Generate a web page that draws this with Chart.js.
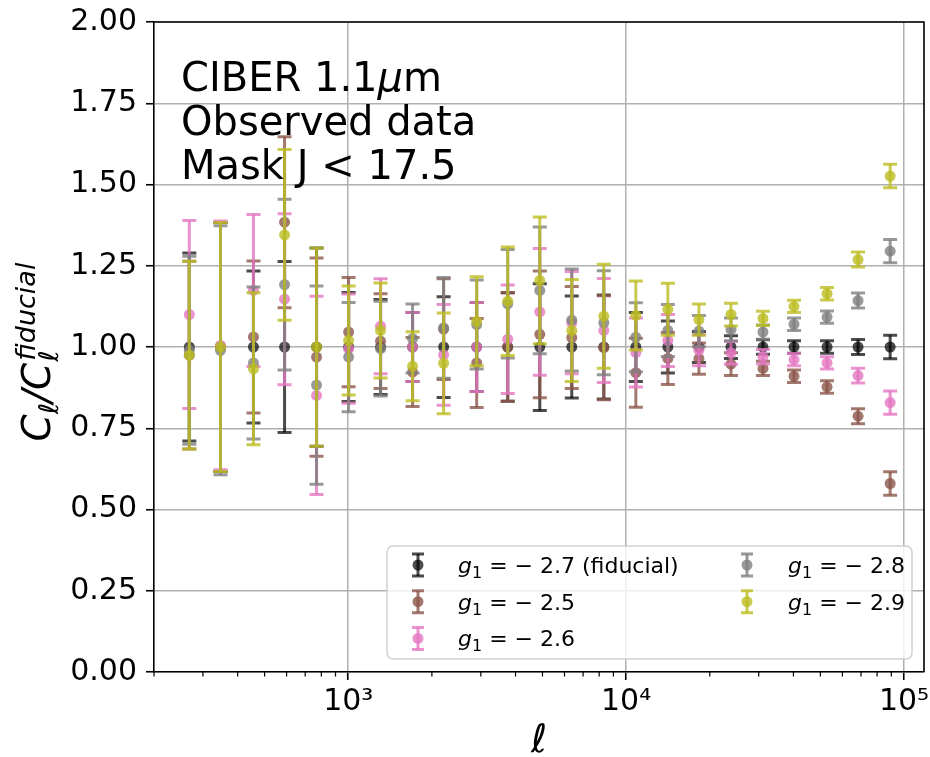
<!DOCTYPE html>
<html>
<head>
<meta charset="utf-8">
<script src="https://cdn.jsdelivr.net/npm/chart.js@4.4.0/dist/chart.umd.min.js"></script>
<style>
    html, body { margin: 0; padding: 0; background: #fff; }
    canvas { display: block; }
</style>
</head>
<body>
<canvas id="chartRatio" width="930" height="757"></canvas>
<script>
// multipole bins (ell)
const ell = [268, 347, 456, 590, 769, 1003, 1307, 1704, 2204, 2899, 3749, 4890, 6374, 8311,
    10839, 14132, 18278, 23837, 31072, 40186, 52841, 68318, 89145];
// 1-sigma error on the ratio (same for every g1)
const errBar = [0.289, 0.383, 0.234, 0.263, 0.305, 0.168, 0.146, 0.106, 0.155, 0.137, 0.167, 0.195,
    0.157, 0.16, 0.106, 0.08, 0.048, 0.035, 0.022, 0.019, 0.019, 0.023, 0.036];
// C_ell / C_ell^fiducial for each g1
const ratioFid = [1, 1, 1, 1, 1, 1, 1, 1, 1, 1, 1, 1, 1, 1, 1, 1, 1, 1, 1, 1, 1, 1, 1];
const ratio25 = [0.975, 1.0, 1.031, 1.384, 0.969, 1.046, 1.018, 0.923, 1.055, 0.951, 1.0, 1.039,
    1.029, 0.998, 0.921, 0.965, 0.964, 0.947, 0.934, 0.91, 0.877, 0.787, 0.58];
const ratio26 = [1.10, 1.005, 1.174, 1.147, 0.851, 0.995, 1.064, 1.0, 0.976, 1.0, 1.024, 1.108,
    1.075, 1.051, 0.983, 1.02, 0.99, 0.982, 0.97, 0.961, 0.951, 0.912, 0.829];
const ratio28 = [0.99, 0.99, 0.951, 1.192, 0.883, 0.969, 0.995, 1.026, 1.059, 1.069, 1.133, 1.174,
    1.083, 1.075, 1.03, 1.051, 1.049, 1.054, 1.046, 1.07, 1.092, 1.143, 1.295];
const ratio29 = [0.975, 1.0, 0.933, 1.345, 1.0, 1.02, 1.051, 0.941, 0.95, 1.079, 1.141, 1.205,
    1.051, 1.095, 1.097, 1.116, 1.084, 1.10, 1.088, 1.125, 1.164, 1.269, 1.526];
// legend labels (g1 values)
const gLabels = ['2.7', '2.5', '2.6', '2.8', '2.9'];
const yTicks = [0, 0.25, 0.5, 0.75, 1.0, 1.25, 1.5, 1.75, 2.0];

const FONT = '"DejaVu Sans"';
const colors = ['rgba(0,0,0,0.7)', 'rgba(140,86,75,0.8)', 'rgba(227,119,194,0.8)',
    'rgba(127,127,127,0.8)', 'rgba(188,189,34,0.8)'];
const series = [ratioFid, ratio25, ratio26, ratio28, ratio29];

function isMajor(v){
    const l = Math.log10(v);
    return Math.abs(l - Math.round(l)) < 1e-9;
}

// draw a list of text pieces, returns total width
function drawRuns(ctx, x, y, runs, measureOnly){
    let cx = x;
    runs.forEach(r => {
        ctx.font = r.font;
        if (!measureOnly) ctx.fillText(r.t, cx, y + (r.dy || 0));
        cx += ctx.measureText(r.t).width;
    });
    return cx - x;
}

// error bars drawn under each dataset's markers
const errorBarPlugin = {
    id: 'errorBars',
    beforeDatasetDraw(chart, args){
        const ds = chart.data.datasets[args.index];
        const ctx = chart.ctx;
        const xs = chart.scales.x, ys = chart.scales.y;
        ctx.save();
        ctx.strokeStyle = ds.pointBackgroundColor;
        ctx.lineWidth = 3;
        ctx.lineCap = 'butt';
        ctx.beginPath();
        ds.data.forEach((d, i) => {
            const px = xs.getPixelForValue(d.x);
            ctx.moveTo(px, ys.getPixelForValue(d.y - errBar[i]));
            ctx.lineTo(px, ys.getPixelForValue(d.y + errBar[i]));
        });
        ctx.stroke();
        ctx.beginPath();
        ds.data.forEach((d, i) => {
            const px = xs.getPixelForValue(d.x);
            [d.y - errBar[i], d.y + errBar[i]].forEach(v => {
                const py = ys.getPixelForValue(v);
                ctx.moveTo(px - 7, py);
                ctx.lineTo(px + 7, py);
            });
        });
        ctx.stroke();
        ctx.restore();
    }
};

// spines, minor ticks, texts and legend
const decorPlugin = {
    id: 'decor',
    afterDraw(chart){
        const ctx = chart.ctx;
        const a = chart.chartArea;
        const xs = chart.scales.x;
        ctx.save();
        ctx.strokeStyle = '#000';
        ctx.lineWidth = 1.6;
        ctx.beginPath();
        ctx.moveTo(a.left, a.top);
        ctx.lineTo(a.right, a.top);
        ctx.lineTo(a.right, a.bottom);
        ctx.stroke();

        // minor log ticks
        ctx.lineWidth = 1.2;
        ctx.beginPath();
        for (let d = 100; d <= 100000; d *= 10){
            for (let k = 2; k <= 9; k++){
                const v = k * d;
                if (v < xs.min || v > xs.max) continue;
                const px = xs.getPixelForValue(v);
                ctx.moveTo(px, a.bottom);
                ctx.lineTo(px, a.bottom + 4.5);
            }
        }
        ctx.stroke();

        ctx.fillStyle = '#000';
        ctx.textBaseline = 'alphabetic';
        ctx.textAlign = 'left';

        // annotation text
        const big = '40px ' + FONT, bigIt = 'italic 40px ' + FONT;
        drawRuns(ctx, 181, 91, [{t: 'CIBER 1.1', font: big}, {t: 'μ', font: bigIt}, {t: 'm', font: big}]);
        drawRuns(ctx, 181, 135, [{t: 'Observed data', font: big}]);
        drawRuns(ctx, 181, 179, [{t: 'Mask J < 17.5', font: big}]);

        // x label
        ctx.font = 'italic 39px ' + FONT;
        ctx.textAlign = 'center';
        ctx.fillText('ℓ', (a.left + a.right) / 2, 752);
        ctx.textAlign = 'left';

        // y label  C_l / C_l^fiducial
        const lab = 'italic 39px ' + FONT, small = 'italic 27px ' + FONT;
        ctx.save();
        ctx.translate(50, 352);
        ctx.rotate(-Math.PI / 2);
        ctx.font = small;
        const wSup = ctx.measureText('fiducial').width;
        const wHead = drawRuns(ctx, 0, 0, [{t: 'C', font: lab}, {t: 'ℓ', font: small}, {t: '/', font: lab}, {t: 'C', font: lab}], true);
        let x0 = -(wHead + wSup + 2) / 2;
        x0 += drawRuns(ctx, x0, 0, [{t: 'C', font: lab}, {t: 'ℓ', font: small, dy: 8}, {t: '/', font: lab}, {t: 'C', font: lab}]);
        drawRuns(ctx, x0 + 1, 0, [{t: 'ℓ', font: small, dy: 8}]);
        drawRuns(ctx, x0 + 2, 0, [{t: 'fiducial', font: small, dy: -15}]);
        ctx.restore();

        // legend box
        ctx.fillStyle = 'rgba(255,255,255,0.8)';
        ctx.strokeStyle = 'rgba(204,204,204,0.9)';
        ctx.lineWidth = 1.5;
        ctx.beginPath();
        ctx.roundRect(387, 546, 525, 113, 6);
        ctx.fill();
        ctx.stroke();

        gLabels.forEach((g, i) => {
            const col = Math.floor(i / 3), row = i % 3;
            const mx = col === 0 ? 418 : 747;
            const tx = col === 0 ? 458 : 788;
            const my = 565 + row * 36.7;
            ctx.strokeStyle = colors[i];
            ctx.fillStyle = colors[i];
            ctx.lineWidth = 3;
            ctx.beginPath();
            ctx.moveTo(mx, my - 11); ctx.lineTo(mx, my + 11);
            ctx.stroke();
            ctx.beginPath();
            ctx.moveTo(mx - 6, my - 11); ctx.lineTo(mx + 6, my - 11);
            ctx.moveTo(mx - 6, my + 11); ctx.lineTo(mx + 6, my + 11);
            ctx.stroke();
            ctx.beginPath();
            ctx.arc(mx, my, 5.5, 0, Math.PI * 2);
            ctx.fill();

            ctx.fillStyle = '#000';
            const rest = ' = − ' + g + (i === 0 ? ' (fiducial)' : '');
            drawRuns(ctx, tx, my + 8, [
                {t: 'g', font: 'italic 22px ' + FONT},
                {t: '1', font: '16px ' + FONT, dy: 5},
                {t: rest, font: '22px ' + FONT}
            ]);
        });
        ctx.restore();
    }
};

document.addEventListener("DOMContentLoaded", function(){
    const datasets = series.map((arr, k) => ({
        label: 'g1 = -' + gLabels[k],
        data: ell.map((l, i) => ({x: l, y: arr[i]})),
        pointRadius: 5.5,
        pointHoverRadius: 5.5,
        pointBorderWidth: 0,
        pointBackgroundColor: colors[k],
        order: series.length - 1 - k
    }));

    const ctx = document.getElementById('chartRatio').getContext('2d');
    new Chart(ctx, {
        type: 'scatter',
        data: { datasets: datasets },
        options: {
            responsive: false,
            animation: false,
            layout: { padding: { top: 22, right: 6, left: 0, bottom: 0 } },
            plugins: {
                legend: { display: false },
                tooltip: { enabled: false }
            },
            scales: {
                x: {
                    type: 'logarithmic',
                    min: 200,
                    max: 118000,
                    afterFit: s => { s.height = 85; s.paddingLeft = 0; s.paddingRight = 0; },
                    ticks: {
                        autoSkip: false,
                        maxRotation: 0,
                        padding: 4,
                        color: '#000',
                        font: { family: FONT, size: 30 },
                        callback: v => {
                            if (!isMajor(v)) return '';
                            const sup = { 3: '³', 4: '⁴', 5: '⁵', 2: '²' };
                            return '10' + sup[Math.round(Math.log10(v))];
                        }
                    },
                    grid: {
                        color: c => (c.tick && isMajor(c.tick.value)) ? '#b0b0b0' : 'rgba(0,0,0,0)',
                        tickColor: c => (c.tick && isMajor(c.tick.value)) ? '#000' : 'rgba(0,0,0,0)',
                        lineWidth: 1.5,
                        tickLength: 8,
                        tickWidth: 1.6
                    },
                    border: { color: '#000', width: 1.6 }
                },
                y: {
                    min: 0,
                    max: 2,
                    afterFit: s => { s.width = 154; s.paddingTop = 0; s.paddingBottom = 0; },
                    afterBuildTicks: s => { s.ticks = yTicks.map(v => ({value: v})); },
                    ticks: {
                        padding: 9,
                        color: '#000',
                        font: { family: FONT, size: 30, lineHeight: 1 },
                        callback: v => v.toFixed(2)
                    },
                    grid: {
                        color: '#b0b0b0',
                        lineWidth: 1.5,
                        tickLength: 8,
                        tickColor: '#000',
                        tickWidth: 1.6
                    },
                    border: { color: '#000', width: 1.6 }
                }
            }
        },
        plugins: [errorBarPlugin, decorPlugin]
    });
});
</script>
</body>
</html>
